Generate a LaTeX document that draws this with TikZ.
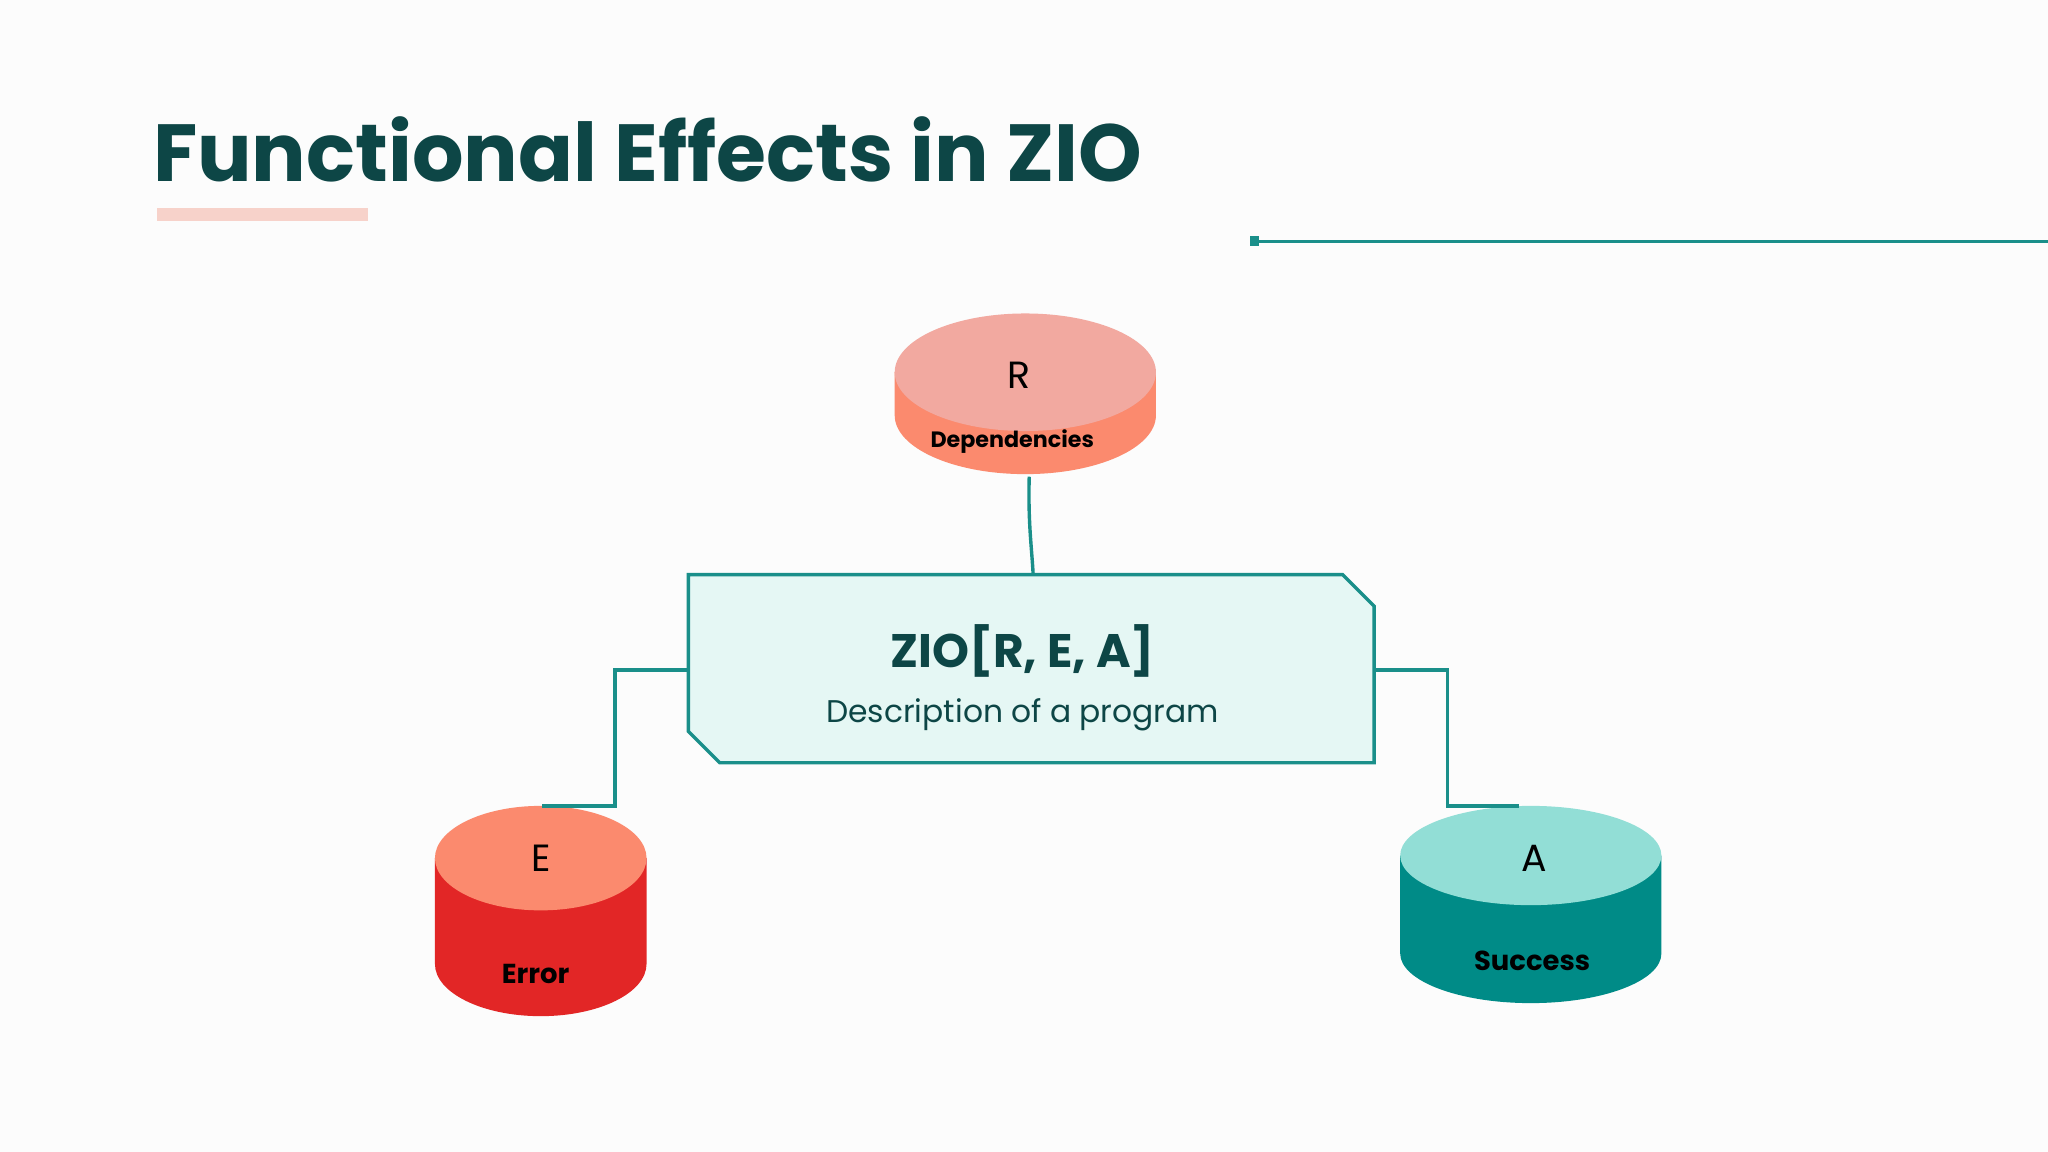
\documentclass[tikz,border=0pt]{standalone}
\usepackage{fontspec}
\setmainfont{Poppins}
\newfontfamily\titlefont{Poppins}
\begin{document}
\begin{tikzpicture}[x=1pt,y=-1pt,
  conn/.style={draw=lineteal,line width=2.6pt},
  lbl/.style={font=\fontsize{29}{30}\selectfont,text=black},
  sub/.style={font=\bfseries\fontsize{17}{19}\selectfont,text=black}]
\definecolor{titlecol}{HTML}{0D4646}
\definecolor{lineteal}{HTML}{1A8F8A}
\definecolor{barpink}{HTML}{F7D2CA}
\definecolor{boxfill}{HTML}{E5F7F4}
\definecolor{rtop}{HTML}{F2A9A0}
\definecolor{rside}{HTML}{FB8A6E}
\definecolor{etop}{HTML}{FB8A6E}
\definecolor{eside}{HTML}{E22626}
\definecolor{atop}{HTML}{92DED6}
\definecolor{aside}{HTML}{008B87}
\fill[white!98!gray] (0,0) rectangle (1568,882);
\useasboundingbox (0,0) rectangle (1568,882);
\node[anchor=base west,inner sep=0,text=titlecol,font=\titlefont\bfseries\fontsize{62}{68}\selectfont] (title) at (117,139) {Functional Effects in ZIO};
\fill[barpink] (120,159) rectangle (282,169);
\coordinate (lstart) at (961,185);
\coordinate (lend) at (1568,185);
\fill[lineteal] (957,181) rectangle (964,188);
\draw[lineteal,line width=1.8pt] (lstart) -- (lend);
% R
\fill[rside] (685,285) -- (685,318) arc[start angle=180,end angle=0,x radius=100,y radius=45] -- (885,285) -- cycle;
\fill[rtop] (785,285) ellipse[x radius=100,y radius=45];
\node[lbl] (R) at (780,287) {R};
\node[sub] (Rd) at (775,338) {Dependencies};
\coordinate (Rb) at (788,365);
% E
\fill[eside] (333,657) -- (333,738) arc[start angle=180,end angle=0,x radius=81,y radius=40] -- (495,657) -- cycle;
\fill[etop] (414,657) ellipse[x radius=81,y radius=40];
\node[lbl] (E) at (414,657) {E};
\node[sub,font=\bfseries\fontsize{21}{23}\selectfont] (Ed) at (410,746) {Error};
\coordinate (Et) at (415,617);
% A
\fill[aside] (1072,655) -- (1072,730) arc[start angle=180,end angle=0,x radius=100,y radius=38] -- (1272,655) -- cycle;
\fill[atop] (1172,655) ellipse[x radius=100,y radius=38];
\node[lbl] (A) at (1175,657) {A};
\node[sub,font=\bfseries\fontsize{21}{23}\selectfont] (Ad) at (1173,736) {Success};
\coordinate (At) at (1163,617);
% main box
\draw[fill=boxfill,draw=lineteal,line width=2.6pt] (527,440) -- (1028,440) -- (1052,464) -- (1052,584) -- (551,584) -- (527,560) -- cycle;
\node[text=titlecol,font=\bfseries\fontsize{36}{40}\selectfont] (zio) at (783,498) {ZIO[R, E, A]};
\node[text=titlecol,font=\fontsize{24}{26}\selectfont] (desc) at (783,547) {Description of a program};
\coordinate (bt) at (791,440);
\coordinate (bl) at (527,513);
\coordinate (br) at (1052,513);
\draw[conn] (Rb) .. controls (787,400) and (790,420) .. (bt);
\draw[conn] (bl) -- (471,513) -- (471,617) -- (Et);
\draw[conn] (br) -- (1108,513) -- (1108,617) -- (At);
\end{tikzpicture}
\end{document}
